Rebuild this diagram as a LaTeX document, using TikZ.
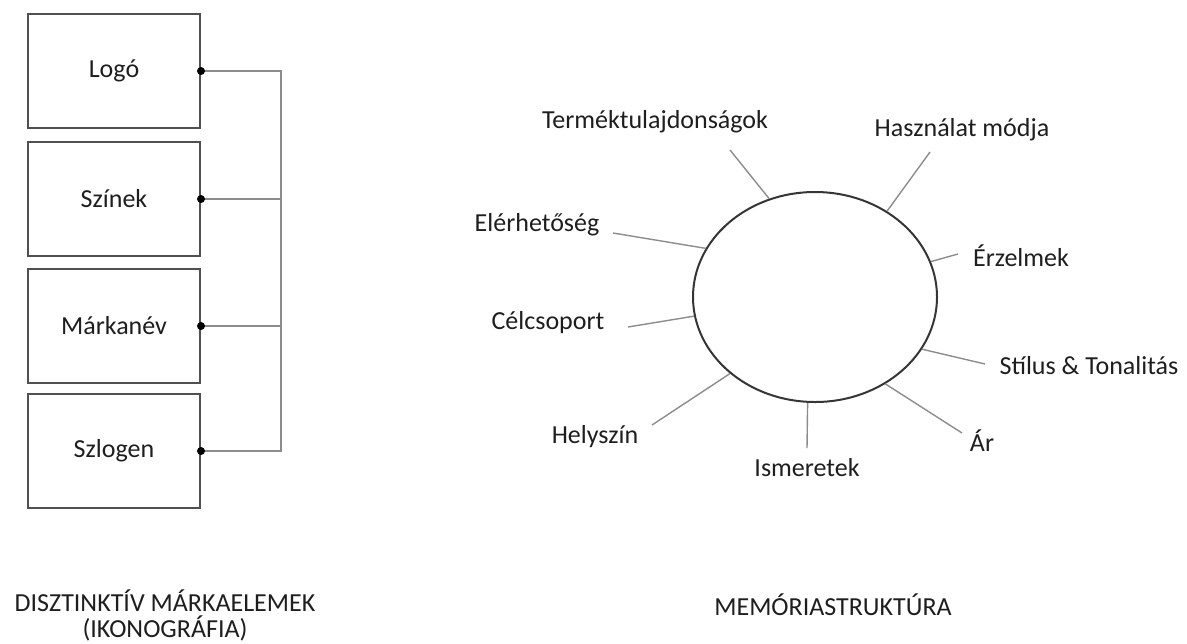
\documentclass[tikz,border=0pt]{standalone}
\usepackage{fontspec}
\setmainfont{Carlito}
\usetikzlibrary{shapes.geometric}
\definecolor{txt}{HTML}{1E1E1E}
\definecolor{boxline}{HTML}{505050}
\definecolor{conn}{HTML}{8C8C8C}
\tikzset{
  elembox/.style={draw=boxline,line width=1pt,minimum width=86pt,minimum height=57pt,inner sep=0pt,text=txt,font=\fontsize{13}{13}\selectfont},
  lbl/.style={text=txt,font=\fontsize{13}{13}\selectfont,inner sep=0pt},
  ttl/.style={text=txt,font=\fontsize{13}{13}\selectfont,align=center,inner sep=0pt},
  bus/.style={draw=conn,line width=0.7pt},
  spoke/.style={draw=conn,line width=0.7pt},
  dotm/.style={fill=black,draw=none}
}
\begin{document}
\begin{tikzpicture}[x=0.5pt,y=-0.5pt]
\useasboundingbox (0,0) rectangle (1187,643);
% left boxes
\node[elembox] (b1) at (114,71) {Logó};
\node[elembox] (b2) at (114,199) {Színek};
\node[elembox] (b3) at (114,326) {Márkanév};
\node[elembox] (b4) at (114,451) {Szlogen};
\coordinate (bt) at (281,71);
\coordinate (bb) at (281,451);
\draw[bus] (b1.east) -- (bt) -- (bb) -- (b4.east);
\draw[bus] (b2.east) -- (b2.east -| bt);
\draw[bus] (b3.east) -- (b3.east -| bt);
\foreach \b in {b1,b2,b3,b4}{\fill[dotm] (\b.east) circle (2pt);}
% ellipse
\node[ellipse,draw=txt!90,line width=1pt,minimum width=122pt,minimum height=105pt,inner sep=0pt] (ell) at (815,297) {};
% labels
\node[lbl] (l1) at (655,122) {Terméktulajdonságok};
\node[lbl] (l2) at (962,130) {Használat módja};
\node[lbl] (l3) at (537,225) {Elérhetőség};
\node[lbl] (l4) at (1021,256) {Érzelmek};
\node[lbl] (l5) at (548,323) {Célcsoport};
\node[lbl] (l6) at (1089,366) {Stílus \& Tonalitás};
\node[lbl] (l7) at (595,437) {Helyszín};
\node[lbl] (l8) at (807,468) {Ismeretek};
\node[lbl] (l9) at (982,441) {Ár};
% spoke outer ends
\coordinate (o1) at (730,150);
\coordinate (o2) at (930,152);
\coordinate (o3) at (613,233);
\coordinate (o4) at (958,254);
\coordinate (o5) at (628,327);
\coordinate (o6) at (985,364);
\coordinate (o7) at (652,425);
\coordinate (o8) at (807,448);
\coordinate (o9) at (962,433);
\draw[spoke] (ell.115.2) -- (o1);
\draw[spoke] (ell.50.6) -- (o2);
\draw[spoke] (ell.156.6) -- (o3);
\draw[spoke] (ell.17.5) -- (o4);
\draw[spoke] (ell.-171.1) -- (o5);
\draw[spoke] (ell.-26.1) -- (o6);
\draw[spoke] (ell.-138.4) -- (o7);
\draw[spoke] (ell.-94.3) -- (o8);
\draw[spoke] (ell.-51.3) -- (o9);
% titles
\node[ttl] (t1) at (165,615) {DISZTINKTÍV MÁRKAELEMEK\\(IKONOGRÁFIA)};
\node[ttl] (t2) at (833,605) {MEMÓRIASTRUKTÚRA};
\end{tikzpicture}
\end{document}
